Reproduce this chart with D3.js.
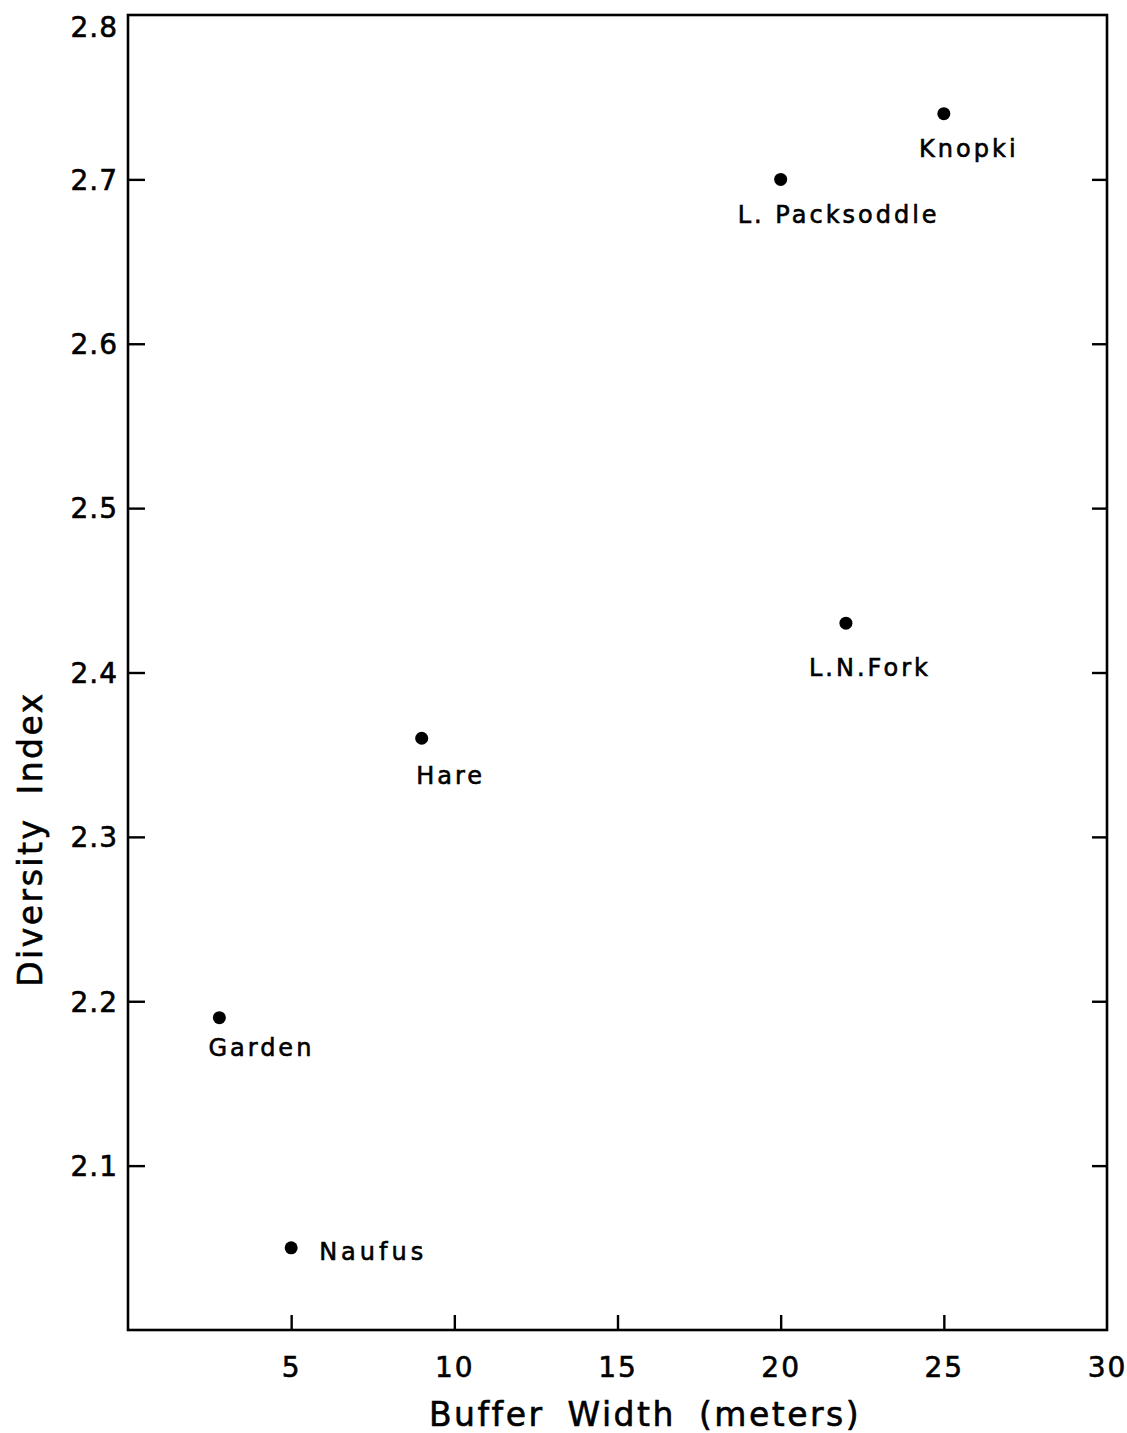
<!DOCTYPE html>
<html>
<head>
<meta charset="utf-8">
<script src="https://cdn.jsdelivr.net/npm/d3@7"></script>
<style>
  html, body { margin: 0; padding: 0; background: #fff; }
  svg { display: block; }
  text { font-family: "DejaVu Sans", "Liberation Sans", sans-serif; fill: #000; stroke: #000; stroke-width: 0.6px; }
</style>
</head>
<body>
<svg id="chart" width="1127" height="1433"></svg>
<script>
// ---- data ----
const sites = ["Knopki", "L. Packsoddle", "L.N.Fork", "Hare", "Garden", "Naufus"];
const bufferWidth = [25, 20, 22, 9, 2.8, 5];
const diversityIndex = [2.74, 2.70, 2.43, 2.36, 2.19, 2.05];
const xTicks = [5, 10, 15, 20, 25, 30];
const yTicks = [2.1, 2.2, 2.3, 2.4, 2.5, 2.6, 2.7, 2.8];
const xTitle = "Buffer Width (meters)";
const yTitle = "Diversity Index";

// label placement relative to point (layout only)
const labelAnchor = ["middle", "middle", "middle", "middle", "middle", "start"];
const labelDx = [25, 58, 24, 29, 42, 28];
const labelDy = [43, 44, 53, 46, 38, 12];
const labelSpacing = [3, 3, 3, 3, 3, 4];

const svg = d3.select("#chart");
const L = 128, R = 1107, T = 15, B = 1330;
const x = d3.scaleLinear().domain([0, 30]).range([L, R]);
const y = d3.scaleLinear().domain([2.0, 2.8]).range([B, T]);

// frame
svg.append("rect")
  .attr("x", L).attr("y", T).attr("width", R - L).attr("height", B - T)
  .attr("fill", "none").attr("stroke", "#000").attr("stroke-width", 2.6);

// bottom axis (ticks inward)
const xAxis = svg.append("g").attr("transform", `translate(0,${B})`)
  .call(d3.axisBottom(x).tickValues(xTicks).tickSizeInner(-15).tickSizeOuter(0).tickPadding(22)
        .tickFormat(d3.format("d")));
xAxis.select(".domain").remove();
xAxis.selectAll(".tick line").attr("stroke-width", 2.4)
  .filter(d => d === 30).remove();
xAxis.selectAll(".tick text")
  .attr("font-size", 28).attr("letter-spacing", 2).attr("dy", "0.9em");

// left axis (ticks inward)
const yAxis = svg.append("g").attr("transform", `translate(${L},0)`)
  .call(d3.axisLeft(y).tickValues(yTicks).tickSizeInner(-17).tickSizeOuter(0).tickPadding(10)
        .tickFormat(d3.format(".1f")));
yAxis.select(".domain").remove();
yAxis.selectAll(".tick line").attr("stroke-width", 2.4)
  .filter(d => d === 2.8).remove();
yAxis.selectAll(".tick text")
  .attr("font-size", 28).attr("letter-spacing", 1)
  .attr("dy", d => d === 2.8 ? "0.75em" : "0.35em");

// right axis (ticks inward)
const yAxisR = svg.append("g").attr("transform", `translate(${R},0)`)
  .call(d3.axisRight(y).tickValues(yTicks.filter(v => v < 2.8)).tickSizeInner(-15).tickSizeOuter(0).tickFormat(""));
yAxisR.select(".domain").remove();
yAxisR.selectAll(".tick line").attr("stroke-width", 2.4);

// points
const pts = sites.map((s, i) => ({ name: s, bw: bufferWidth[i], di: diversityIndex[i], i }));
svg.append("g").selectAll("circle").data(pts).join("circle")
  .attr("cx", d => x(d.bw)).attr("cy", d => y(d.di)).attr("r", 6.5).attr("fill", "#000");

svg.append("g").selectAll("text").data(pts).join("text")
  .attr("x", d => x(d.bw) + labelDx[d.i])
  .attr("y", d => y(d.di) + labelDy[d.i])
  .attr("text-anchor", d => labelAnchor[d.i])
  .attr("font-size", 24).attr("letter-spacing", d => labelSpacing[d.i])
  .text(d => d.name);

// axis titles
svg.append("text")
  .attr("x", 645).attr("y", 1426)
  .attr("text-anchor", "middle").attr("font-size", 33)
  .attr("letter-spacing", 2.5).attr("word-spacing", 10)
  .text(xTitle);

svg.append("text")
  .attr("transform", `translate(42,839) rotate(-90)`)
  .attr("text-anchor", "middle").attr("font-size", 33)
  .attr("letter-spacing", 2.5).attr("word-spacing", 10)
  .text(yTitle);
</script>
</body>
</html>
